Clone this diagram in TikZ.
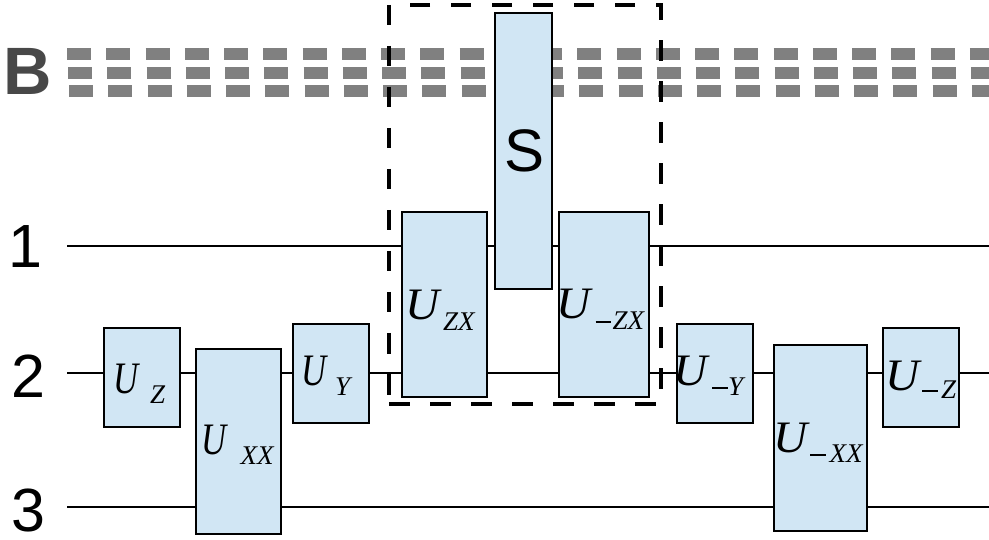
\documentclass[tikz,border=0pt]{standalone}
\usepackage{graphicx}
\usepackage{fontspec}
\setmainfont{Liberation Serif}
\newfontfamily\labelsans{Liberation Sans}
\definecolor{gatefill}{RGB}{209,230,244}
\definecolor{bline}{RGB}{128,128,128}
\definecolor{btext}{RGB}{72,72,72}
\newcommand{\gatelabel}[4]{\scalebox{#1}[1]{\fontsize{45}{45}\selectfont\itshape U}\hspace{#2}\raisebox{-#4pt}{\fontsize{27}{27}\selectfont\itshape #3}}
\newcommand{\mn}[1]{\rule[6.5pt]{15.5pt}{2pt}\hspace{#1}}
\tikzset{
  gate/.style={draw=black, line width=1.6pt, fill=gatefill, rectangle, inner sep=0pt, outer sep=0pt},
  wire/.style={draw=black, line width=1.3pt},
  bwire/.style={draw=bline, line width=12pt, dash pattern=on 24pt off 15.25pt},
  groupbox/.style={draw=black, line width=3.5pt, dash pattern=on 20.5pt off 20.5pt, rectangle, inner sep=0pt, outer sep=0pt},
  glabel/.style={anchor=base west, inner sep=0pt, outer sep=0pt},
  qlabel/.style={anchor=base west, inner sep=0pt, outer sep=0pt, font=\labelsans\fontsize{61}{61}\selectfont}
}
\begin{document}
\begin{tikzpicture}[x=1pt,y=-1pt]
\useasboundingbox (0,0) rectangle (989,540);
% B bus
\coordinate (b1s) at (67,54); \coordinate (b1e) at (989,54);
\coordinate (b2s) at (68,73); \coordinate (b2e) at (989,73);
\coordinate (b3s) at (69,91); \coordinate (b3e) at (989,91);
\draw[bwire] (b1s) -- (b1e);
\draw[bwire] (b2s) -- (b2e);
\draw[bwire] (b3s) -- (b3e);
\node[anchor=base west, inner sep=0pt, text=btext, font=\labelsans\bfseries\fontsize{67}{67}\selectfont] (B) at (3,95) {B};
% wires
\coordinate (w1s) at (67,246); \coordinate (w1e) at (989,246);
\coordinate (w2s) at (67,373); \coordinate (w2e) at (989,373);
\coordinate (w3s) at (67,507); \coordinate (w3e) at (989,507);
\draw[wire] (w1s) -- (w1e);
\draw[wire] (w2s) -- (w2e);
\draw[wire] (w3s) -- (w3e);
\node[qlabel] (q1) at (9,268) {1};
\node[qlabel] (q2) at (11,397) {2};
\node[qlabel] (q3) at (11,531) {3};
% dashed group
\node[groupbox, minimum width=272pt, minimum height=399pt] (grp) at (525,204.5) {};
% gates
\node[gate, minimum width=76pt, minimum height=99pt] (Uz) at (142,377.5) {};
\node[gate, minimum width=85pt, minimum height=185pt] (Uxx) at (238.5,441.5) {};
\node[gate, minimum width=76pt, minimum height=99pt] (Uy) at (331,373.5) {};
\node[gate, minimum width=85pt, minimum height=185pt] (Uzx) at (444.5,304.5) {};
\node[gate, minimum width=57pt, minimum height=276pt] (S) at (523.5,151) {};
\node[gate, minimum width=90pt, minimum height=185pt] (Umzx) at (604,304.5) {};
\node[gate, minimum width=76pt, minimum height=99pt] (Umy) at (715,373.5) {};
\node[gate, minimum width=93pt, minimum height=186pt] (Umxx) at (820.5,438) {};
\node[gate, minimum width=76pt, minimum height=99pt] (Umz) at (921,377.5) {};
% labels
\node[glabel] (lUz) at (113.5,393) {\gatelabel{0.77}{11.5pt}{Z}{10}};
\node[glabel] (lUxx) at (201.5,454) {\gatelabel{0.77}{14pt}{XX}{10}};
\node[glabel] (lUy) at (301.5,385) {\gatelabel{0.77}{8.5pt}{Y}{10}};
\node[glabel] (lUzx) at (405,320) {\gatelabel{1.05}{4pt}{ZX}{10}};
\node[anchor=base, inner sep=0pt, font=\labelsans\fontsize{60}{60}\selectfont] (lS) at (524.5,172) {S};
\node[glabel] (lUmzx) at (556.5,319) {\gatelabel{1.05}{5pt}{\mn{1.5pt}ZX}{11}};
\node[glabel] (lUmy) at (673,385) {\gatelabel{1.05}{5pt}{\mn{0.5pt}Y}{10}};
\node[glabel] (lUmxx) at (773,452) {\gatelabel{1.05}{3pt}{\mn{4pt}XX}{10}};
\node[glabel] (lUmz) at (885,390) {\gatelabel{1.05}{3pt}{\mn{3.5pt}Z}{9}};
\end{tikzpicture}
\end{document}
